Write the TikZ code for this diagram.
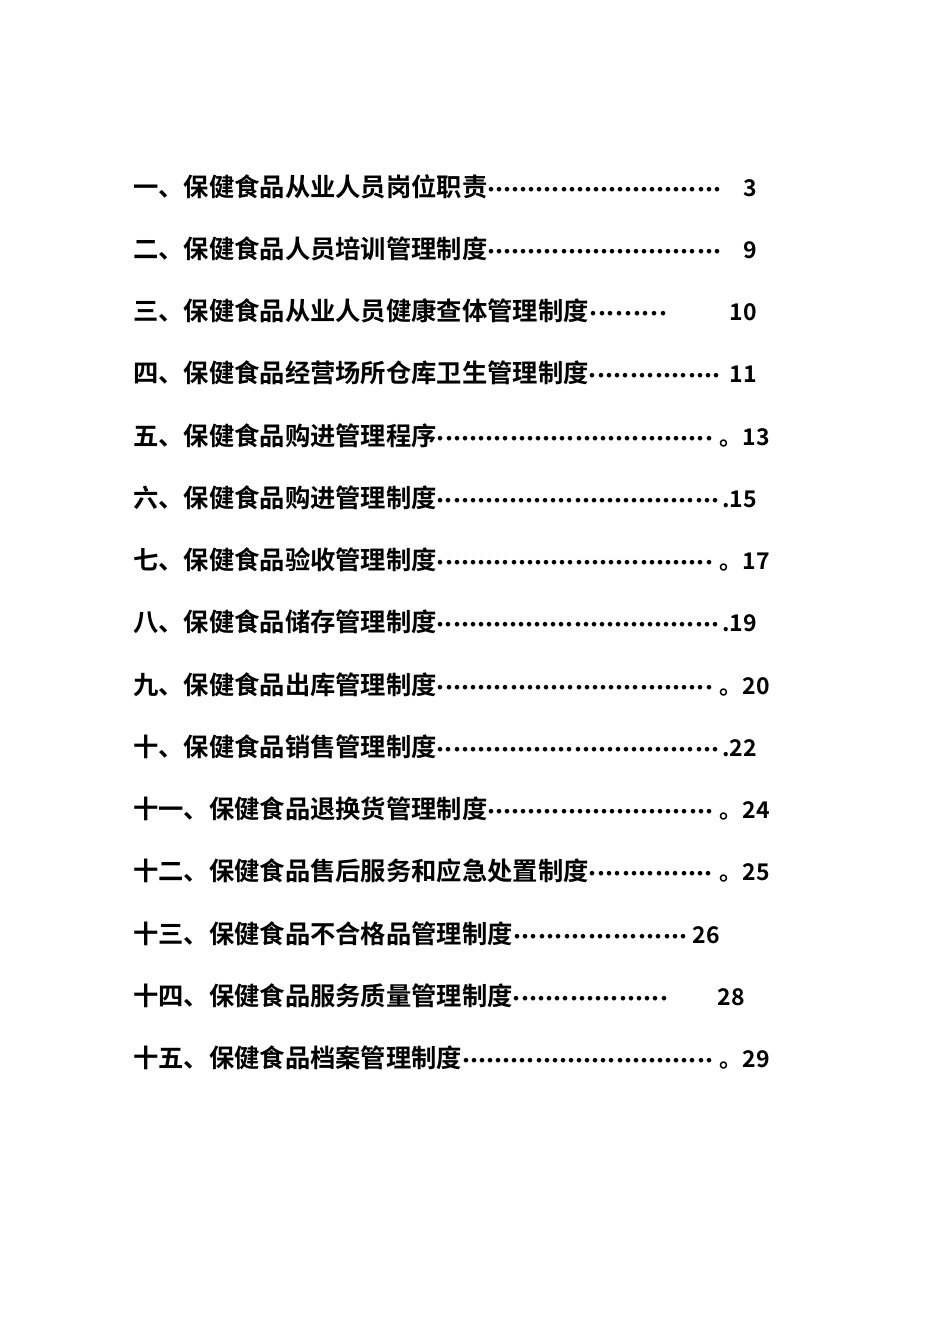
\documentclass[tikz,border=0pt]{standalone}
\usepackage{fontspec}
\setmainfont{Noto Sans CJK SC}[BoldFont={Noto Sans CJK SC Bold}]
\begin{document}
\begin{tikzpicture}[x=1pt,y=-1pt,every node/.style={font=\fontsize{23}{26}\selectfont\bfseries}]
\useasboundingbox[fill=white] (0,0) rectangle (950,1344);
\newcommand{\tl}[6]{%
  \node[anchor=base west,inner sep=0pt] (t#1) at (133,#2) {\hbox to #3pt{{\fontsize{25.3}{26}\selectfont #4}\xleaders\hbox to 8pt{\hss{\fontsize{18}{20}\selectfont ·}\hss}\hfill}};
  \node[anchor=base east,inner sep=0pt] (n#1) at (#5,#2) {#6};}
\tl{1}{196}{588}{一、保健食品从业人员岗位职责}{757}{3}
\tl{2}{258}{588}{二、保健食品人员培训管理制度}{757}{9}
\tl{3}{320}{535}{三、保健食品从业人员健康查体管理制度}{757}{10}
\tl{4}{382}{588}{四、保健食品经营场所仓库卫生管理制度}{757}{11}
\tl{5}{445}{580}{五、保健食品购进管理程序}{770}{。13}
\tl{6}{507}{586}{六、保健食品购进管理制度}{757}{.15}
\tl{7}{569}{580}{七、保健食品验收管理制度}{770}{。17}
\tl{8}{631}{586}{八、保健食品储存管理制度}{757}{.19}
\tl{9}{694}{580}{九、保健食品出库管理制度}{770}{。20}
\tl{10}{756}{586}{十、保健食品销售管理制度}{757}{.22}
\tl{11}{818}{580}{十一、保健食品退换货管理制度}{770}{。24}
\tl{12}{880}{580}{十二、保健食品售后服务和应急处置制度}{770}{。25}
\tl{13}{943}{555}{十三、保健食品不合格品管理制度}{720}{26}
\tl{14}{1005}{535}{十四、保健食品服务质量管理制度}{745}{28}
\tl{15}{1067}{580}{十五、保健食品档案管理制度}{770}{。29}
\end{tikzpicture}
\end{document}
